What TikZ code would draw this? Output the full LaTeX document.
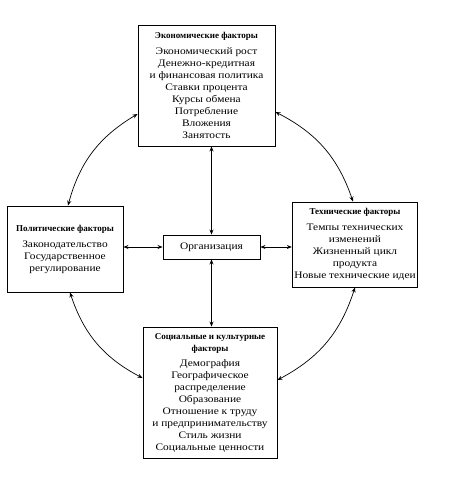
\documentclass[tikz,border=0pt]{standalone}
\usepackage{fontspec}
\setmainfont{Liberation Serif}
\newfontfamily\bodyfont[FakeStretch=1.14]{Liberation Serif}
\usetikzlibrary{arrows.meta,calc}
\newcommand\boxtitle[1]{{\fontsize{9}{12}\selectfont\rmfamily\bfseries #1}}
\begin{document}
\begin{tikzpicture}[x=1pt,y=-1pt,
  box/.style={draw, line width=0.9pt, align=center, inner sep=2pt,
    font=\bodyfont\fontsize{10}{12}\selectfont},
  arr/.style={{Stealth[length=5pt,width=4pt]}-{Stealth[length=5pt,width=4pt]}, line width=0.7pt}]
\useasboundingbox[fill=white] (0,0) rectangle (459,480);
\node[box, minimum width=137pt, minimum height=121pt] (econ) at (206.5,85.5)
  {\boxtitle{Экономические факторы}\\[4pt]
   Экономический рост\\ Денежно-кредитная\\ и финансовая политика\\
   Ставки процента\\ Курсы обмена\\ Потребление\\ Вложения\\ Занятость};
\node[box, minimum width=116pt, minimum height=86pt] (pol) at (65,249)
  {\boxtitle{Политические факторы}\\[4pt]
   Законодательство\\ Государственное\\ регулирование};
\node[box, minimum width=124pt, minimum height=85pt] (tech) at (355,244.5)
  {\boxtitle{Технические факторы}\\[4pt]
   Темпы технических\\ изменений\\ Жизненный цикл\\ продукта\\ Новые технические идеи};
\node[box, minimum width=97pt, minimum height=24pt] (org) at (211.5,247) {Организация};
\node[box, minimum width=134pt, minimum height=131pt] (soc) at (210,392.5)
  {\boxtitle{Социальные и культурные}\\ \boxtitle{факторы}\\[3pt]
   Демография\\ Географическое\\ распределение\\ Образование\\
   Отношение к труду\\ и предпринимательству\\ Стиль жизни\\ Социальные ценности};
\draw[arr] (org.west) -- (org.west -| pol.east);
\draw[arr] (org.east) -- (org.east -| tech.west);
\draw[arr] (org.north) -- (org.north |- econ.south);
\draw[arr] (org.south) -- (org.south |- soc.north);
\draw[arr] ([yshift=-28.5pt]econ.west) to[bend right=22] ([xshift=3pt]pol.north);
\draw[arr] ([yshift=-26.5pt]econ.east) to[bend left=22] ([xshift=-2pt]tech.north);
\draw[arr] (tech.south) to[bend left=22] ([yshift=12.5pt]soc.east);
\draw[arr] ([xshift=5pt]pol.south) to[bend right=22] ([yshift=14.5pt]soc.west);
\end{tikzpicture}
\end{document}
